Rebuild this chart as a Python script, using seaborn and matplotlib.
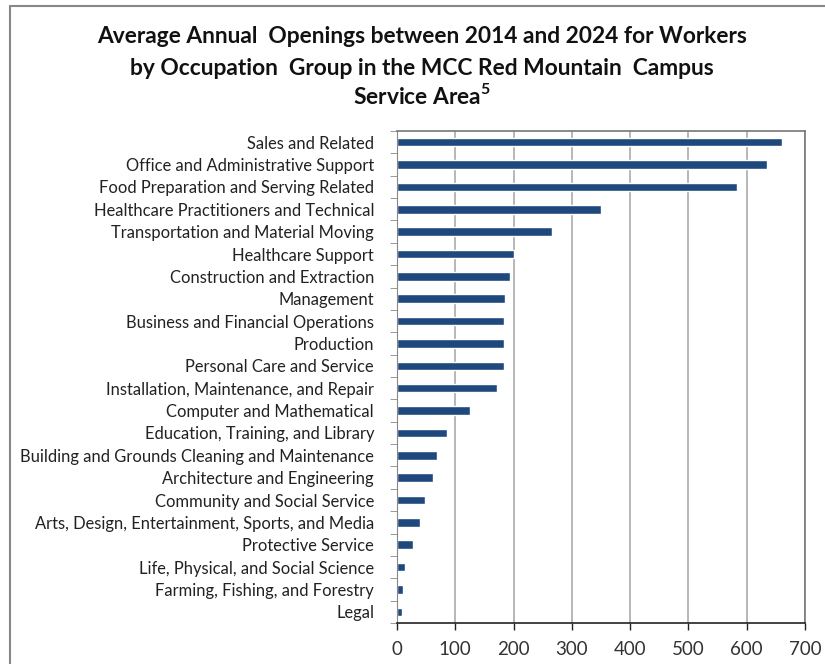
import matplotlib
matplotlib.use("Agg")
import matplotlib.pyplot as plt
import seaborn as sns
import pandas as pd
import numpy as np
from matplotlib.lines import Line2D

# occupation groups, top to bottom
groups = [
    "Sales and Related",
    "Office and Administrative Support",
    "Food Preparation and Serving Related",
    "Healthcare Practitioners and Technical",
    "Transportation and Material Moving",
    "Healthcare Support",
    "Construction and Extraction",
    "Management",
    "Business and Financial Operations",
    "Production",
    "Personal Care and Service",
    "Installation, Maintenance, and Repair",
    "Computer and Mathematical",
    "Education, Training, and Library",
    "Building and Grounds Cleaning and Maintenance",
    "Architecture and Engineering",
    "Community and Social Service",
    "Arts, Design, Entertainment, Sports, and Media",
    "Protective Service",
    "Life, Physical, and Social Science",
    "Farming, Fishing, and Forestry",
    "Legal",
]
openings = [661, 635, 584, 350, 266, 201, 194, 186, 184, 184, 183, 172,
            125, 86, 68, 61, 48, 39, 27, 14, 11, 9]
xticks = [0, 100, 200, 300, 400, 500, 600, 700]
title_lines = [
    "Average Annual  Openings between 2014 and 2024 for Workers",
    "by Occupation  Group in the MCC Red Mountain  Campus",
    "Service Area$^{\\mathbf{5}}$",
]

df = pd.DataFrame({"Group": groups, "Openings": openings})

sns.set_style("white")
plt.rcParams['font.family'] = ['Lato', 'DejaVu Sans']
plt.rcParams['mathtext.fontset'] = 'custom'
plt.rcParams['mathtext.rm'] = 'Lato'
plt.rcParams['mathtext.bf'] = 'Lato:bold'

fig = plt.figure(figsize=(8.25, 6.64), dpi=100)
ax = fig.add_axes([397/825, 1-623/664, (805-397)/825, (623-131)/664])

sns.barplot(data=df, x="Openings", y="Group", orient="h", color="#1F497D",
            saturation=1, width=0.38, ax=ax)

ax.set_xlim(0, 700)
ax.set_ylim(len(groups)-0.5, -0.5)
ax.set_xticks(xticks)
ax.set_xticklabels([str(t) for t in xticks], fontsize=13.5, color="#333333")
ax.set_xlabel("")
ax.set_ylabel("")
ax.tick_params(axis="y", labelsize=11.9, labelcolor="#222222", length=0, pad=16.5)
ax.tick_params(axis="x", length=5, width=1, color="#222222", pad=8,
               direction="out", bottom=True)
# excel style tick marks between categories
ax.set_yticks(np.arange(-0.5, len(groups), 1), minor=True)
ax.tick_params(axis="y", which="minor", length=5, color="#888888", left=True)

ax.grid(axis="x", color="#aaaaaa", linewidth=1.2)
ax.set_axisbelow(True)
for side in ["top", "right"]:
    ax.spines[side].set_color("#777777")
    ax.spines[side].set_linewidth(1.2)
ax.spines["left"].set_color("#888888")
ax.spines["bottom"].set_color("#222222")
ax.spines["bottom"].set_linewidth(1.2)

# title, one line at a time so the superscript does not shift the spacing
for line, base in zip(title_lines, [43, 75, 104]):
    fig.text(422/825, 1-base/664, line, ha="center", va="baseline",
             fontsize=16.4, fontweight="bold", color="#111111")

# outer frame
fig.add_artist(Line2D([9.5/825, 9.5/825], [0, 1-5.5/664],
                      transform=fig.transFigure, color="#888888", lw=1.5))
fig.add_artist(Line2D([9.5/825, 1], [1-5.5/664, 1-5.5/664],
                      transform=fig.transFigure, color="#888888", lw=1.5))

fig.savefig("out.png", dpi=100, facecolor="white")
